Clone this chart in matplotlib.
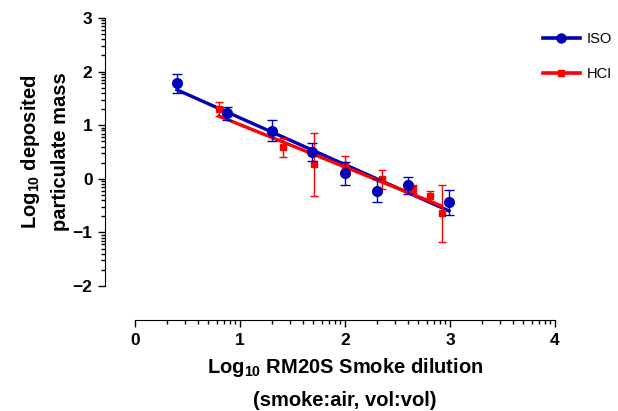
import numpy as np
import matplotlib
matplotlib.use("Agg")
import matplotlib.pyplot as plt

# Police type Arial (Liberation Sans) en gras
plt.rcParams['font.family'] = ['Liberation Sans', 'DejaVu Sans']
plt.rcParams['font.weight'] = 'bold'
plt.rcParams['mathtext.fontset'] = 'custom'
plt.rcParams['mathtext.rm'] = 'Liberation Sans:bold'
plt.rcParams['mathtext.bf'] = 'Liberation Sans:bold'
plt.rcParams['mathtext.it'] = 'Liberation Sans:bold'

# Données ISO (log10 dilution, log10 masse, erreur)
iso_x = [0.40, 0.88, 1.30, 1.69, 2.00, 2.30, 2.60, 2.99]
iso_y = [1.78, 1.22, 0.90, 0.50, 0.10, -0.22, -0.12, -0.44]
iso_err = [0.17, 0.12, 0.20, 0.17, 0.21, 0.21, 0.16, 0.23]

# Données HCI
hci_x = [0.80, 1.41, 1.70, 2.00, 2.35, 2.65, 2.81, 2.92]
hci_y = [1.30, 0.59, 0.27, 0.25, -0.01, -0.19, -0.32, -0.64]
hci_err = [0.13, 0.18, 0.59, 0.18, 0.18, 0.08, 0.10, 0.53]

bleu = "#0000b4"
rouge = "#ff0000"

fig = plt.figure(figsize=(6.18, 4.11), dpi=100)
ax = fig.add_axes([135 / 618, 1 - 286 / 411, 420 / 618, 268 / 411])

# Régressions linéaires
for xs, ys, couleur in [(iso_x, iso_y, bleu), (hci_x, hci_y, rouge)]:
    a, b = np.polyfit(xs, ys, 1)
    xx = np.array([min(xs), max(xs)])
    ax.plot(xx, a * xx + b, color=couleur, lw=2.4, zorder=2)

# Points avec barres d'erreur
ax.errorbar(hci_x, hci_y, yerr=hci_err, fmt='s', color=rouge, ms=5,
            capsize=3.2, elinewidth=1, capthick=1, zorder=3)
ax.errorbar(iso_x, iso_y, yerr=iso_err, fmt='o', color=bleu, ms=7,
            capsize=3.5, elinewidth=1, capthick=1, zorder=4)

# Légende
h_iso, = ax.plot([], [], color=bleu, lw=2.6, marker='o', ms=6.5)
h_hci, = ax.plot([], [], color=rouge, lw=2.6, marker='s', ms=4.5)
leg = fig.legend([h_iso, h_hci], ["ISO", "HCI"], loc='upper left',
                 bbox_to_anchor=(530 / 618, 1 - 19 / 411), frameon=False,
                 prop={'weight': 'normal', 'size': 10.5}, handlelength=2.5,
                 labelspacing=1.45, handletextpad=0.5)

# Axes
ax.set_xlim(0, 4)
ax.set_ylim(-2, 3)
ax.spines['top'].set_visible(False)
ax.spines['right'].set_visible(False)
ax.spines['bottom'].set_position(('outward', 24.5))
ax.spines['left'].set_position(('outward', 21.6))

ax.set_xticks([0, 1, 2, 3, 4])
ax.set_yticks([-2, -1, 0, 1, 2, 3])
mineurs_x = [n + np.log10(k) for n in range(4) for k in range(2, 10)]
mineurs_y = [n + np.log10(k) for n in range(-2, 3) for k in range(2, 10)]
ax.set_xticks(mineurs_x, minor=True)
ax.set_yticks(mineurs_y, minor=True)
ax.tick_params(which='major', length=5, width=1, labelsize=12.5, pad=4)
ax.tick_params(which='minor', length=3, width=1)

ax.set_xlabel("Log$_{10}$ RM20S Smoke dilution\n(smoke:air, vol:vol)",
              fontsize=14.5, fontweight='bold', linespacing=1.8, labelpad=6)
ax.set_ylabel("Log$_{10}$ deposited\nparticulate mass",
              fontsize=14.5, fontweight='bold', linespacing=1.6, labelpad=2)

fig.savefig("out.png", dpi=100)
